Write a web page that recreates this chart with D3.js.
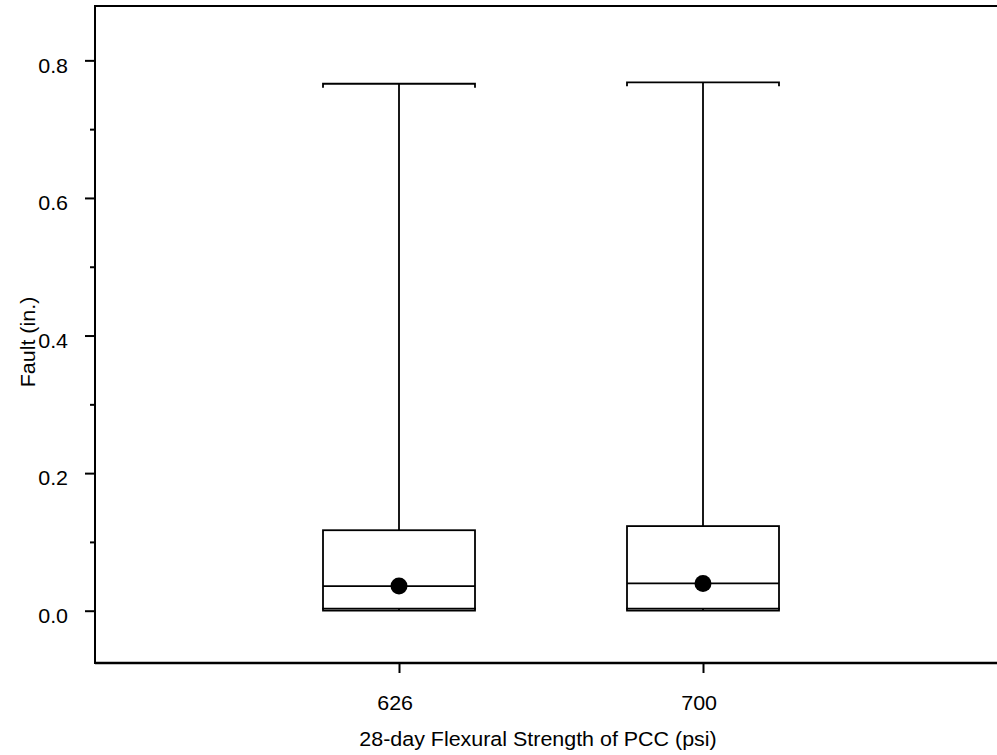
<!DOCTYPE html>
<html>
<head>
<meta charset="utf-8">
<script src="https://cdn.jsdelivr.net/npm/d3@7"></script>
<style>
  html, body { margin: 0; padding: 0; background: #fff; }
  svg { display: block; }
  text { font-family: "Liberation Sans", Arial, sans-serif; fill: #000; }
</style>
</head>
<body>
<svg id="chart" width="997" height="755"></svg>
<script>
// ---- data ----
const categories = ["626", "700"];
const whiskerMax = [0.766, 0.768];
const q3Values = [0.117, 0.123];
const medianValues = [0.0356, 0.0396];
const q1Values = [0.003, 0.003];
const whiskerMin = [0.0, 0.0];
const meanValues = [0.036, 0.0395];
const yMajorTicks = [0.0, 0.2, 0.4, 0.6, 0.8];
const yMinorTicks = [0.1, 0.3, 0.5, 0.7];
const xTitle = "28-day Flexural Strength of PCC (psi)";
const yTitle = "Fault (in.)";

(function () {
const svg = d3.select("#chart");
const mLeft = 95, mTop = 6, mBottom = 663, mRight = 997;
const fs = "19.5px", sx = 1.1;

const y = d3.scaleLinear().domain([-0.076, 0.879]).range([mBottom, mTop]);
const x = d3.scaleLinear().domain([0, 3]).range([mLeft, mLeft + 3 * 304]);
const boxW = 152;

const data = categories.map((c, i) => ({
  cat: c, pos: i + 1,
  max: whiskerMax[i], q3: q3Values[i], med: medianValues[i],
  q1: q1Values[i], min: whiskerMin[i], mean: meanValues[i]
}));

// frame lines
svg.append("line").attr("x1", mLeft).attr("x2", mRight).attr("y1", mTop).attr("y2", mTop)
  .attr("stroke", "#000").attr("stroke-width", 2);
svg.append("line").attr("x1", mLeft).attr("x2", mRight).attr("y1", mBottom).attr("y2", mBottom)
  .attr("stroke", "#000").attr("stroke-width", 2.5);
svg.append("line").attr("x1", mLeft).attr("x2", mLeft).attr("y1", mTop - 1).attr("y2", mBottom + 1)
  .attr("stroke", "#000").attr("stroke-width", 2);

// y axis
const yAxis = svg.append("g").attr("transform", `translate(${mLeft},0)`)
  .call(d3.axisLeft(y).tickValues(yMajorTicks).tickFormat(d3.format(".1f")).tickSize(10).tickPadding(14.5));
yAxis.select(".domain").remove();
yAxis.selectAll(".tick line").attr("stroke-width", 2);
yAxis.selectAll(".tick text").style("font-size", fs).attr("dy", "0.6em")
  .attr("transform", `scale(${sx},1)`);

const yMinor = svg.append("g").attr("transform", `translate(${mLeft},0)`)
  .call(d3.axisLeft(y).tickValues(yMinorTicks).tickFormat("").tickSize(5));
yMinor.select(".domain").remove();
yMinor.selectAll(".tick line").attr("stroke-width", 2);

// x axis
const xAxis = svg.append("g").attr("transform", `translate(0,${mBottom})`)
  .call(d3.axisBottom(x).tickValues(data.map(d => d.pos)).tickFormat((d, i) => categories[i]).tickSize(10).tickPadding(23.5));
xAxis.select(".domain").remove();
xAxis.selectAll(".tick line").attr("stroke-width", 2);
xAxis.selectAll(".tick text").style("font-size", fs).attr("dx", -4)
  .attr("transform", `scale(${sx},1)`);

// titles
svg.append("text").attr("transform", `translate(538,746) scale(${sx},1)`).attr("text-anchor", "middle")
  .style("font-size", fs).text(xTitle);
svg.append("text").attr("transform", `translate(35,342) rotate(-90) scale(${sx},1)`).attr("text-anchor", "middle")
  .style("font-size", fs).text(yTitle);

// boxes
const g = svg.selectAll("g.box").data(data).join("g").attr("class", "box");
const sw = 1.8;
g.append("line").attr("x1", d => x(d.pos)).attr("x2", d => x(d.pos))
  .attr("y1", d => y(d.max)).attr("y2", d => y(d.q3)).attr("stroke", "#000").attr("stroke-width", sw);
g.append("line").attr("x1", d => x(d.pos)).attr("x2", d => x(d.pos))
  .attr("y1", d => y(d.q1)).attr("y2", d => y(d.min)).attr("stroke", "#000").attr("stroke-width", sw);
g.append("path").attr("fill", "none").attr("stroke", "#000").attr("stroke-width", sw)
  .attr("d", d => `M${x(d.pos) - boxW / 2},${y(d.max) + 4}V${y(d.max)}H${x(d.pos) + boxW / 2}V${y(d.max) + 4}`);
g.append("path").attr("fill", "none").attr("stroke", "#000").attr("stroke-width", sw)
  .attr("d", d => `M${x(d.pos) - boxW / 2},${y(d.min) - 3}V${y(d.min)}H${x(d.pos) + boxW / 2}V${y(d.min) - 3}`);
g.append("rect").attr("x", d => x(d.pos) - boxW / 2).attr("width", boxW)
  .attr("y", d => y(d.q3)).attr("height", d => y(d.q1) - y(d.q3))
  .attr("fill", "none").attr("stroke", "#000").attr("stroke-width", sw);
g.append("line").attr("x1", d => x(d.pos) - boxW / 2).attr("x2", d => x(d.pos) + boxW / 2)
  .attr("y1", d => y(d.med)).attr("y2", d => y(d.med)).attr("stroke", "#000").attr("stroke-width", sw);
g.append("circle").attr("cx", d => x(d.pos)).attr("cy", d => y(d.mean)).attr("r", 8.5).attr("fill", "#000");
})();
</script>
</body>
</html>
